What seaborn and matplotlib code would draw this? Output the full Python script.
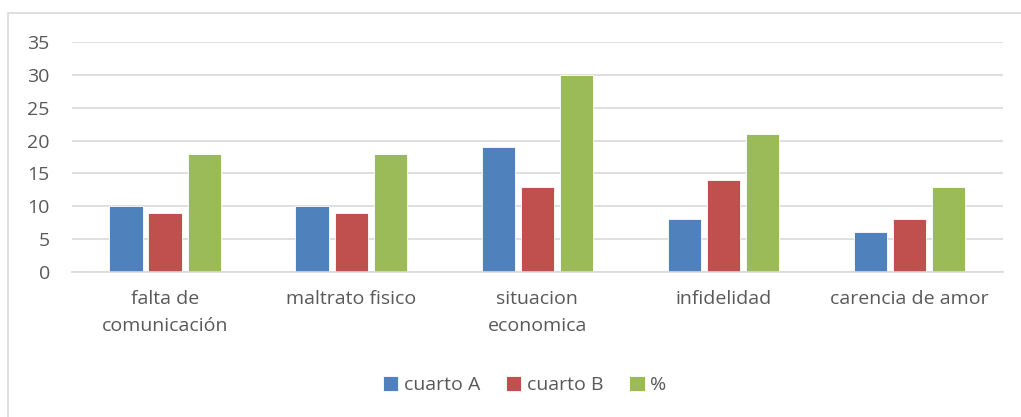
import pandas as pd
import matplotlib.pyplot as plt
import seaborn as sns
from matplotlib.patches import Rectangle

# Datos del gráfico
categorias = ['falta de\ncomunicación', 'maltrato fisico', 'situacion\neconomica',
              'infidelidad', 'carencia de amor']
cuarto_a = [10, 10, 19, 8, 6]
cuarto_b = [9, 9, 13, 14, 8]
porcentaje = [18, 18, 30, 21, 13]
series = ['cuarto A', 'cuarto B', '%']
colores = ['#4F81BD', '#C0504D', '#9BBB59']

df = pd.DataFrame({'categoria': categorias * 3,
                   'serie': [s for s in series for _ in categorias],
                   'valor': cuarto_a + cuarto_b + porcentaje})

sns.set_style('white')
plt.rcParams['font.family'] = ['Open Sans', 'DejaVu Sans']
gris = '#595959'
linea = '#D9D9D9'

fig = plt.figure(figsize=(10.21, 4.17), dpi=100)
ax = fig.add_axes([0.0705, 0.348, 0.9115, 0.551])

sns.barplot(data=df, x='categoria', y='valor', hue='serie', palette=colores,
            saturation=1, width=0.63, gap=0.15, ax=ax, legend=True,
            edgecolor='white', linewidth=0.6)

ax.set_ylim(0, 35)
ax.set_yticks(range(0, 36, 5))
ax.set_xlim(-0.5, 4.5)
ax.grid(axis='y', color=linea, linewidth=1.2)
ax.set_axisbelow(True)
for lado in ['top', 'right', 'left']:
    ax.spines[lado].set_visible(False)
ax.spines['bottom'].set_color(linea)
ax.spines['bottom'].set_linewidth(1.2)
ax.set_xlabel('')
ax.set_ylabel('')
ax.tick_params(axis='both', length=0, labelsize=14, colors=gris)
ax.tick_params(axis='x', pad=13)
ax.tick_params(axis='y', pad=16)
for t in ax.get_xticklabels():
    t.set_linespacing(1.65)

ax.legend(loc='center', bbox_to_anchor=(0.514, 0.077), bbox_transform=fig.transFigure,
          ncol=3, frameon=False, fontsize=14, labelcolor=gris, handlelength=0.8,
          handleheight=0.8, handletextpad=0.3, columnspacing=1.3)

# Borde del gráfico
fig.patches.append(Rectangle((8 / 1021, -0.1), 1.2, 1 - 13 / 417 + 0.1,
                             transform=fig.transFigure, fill=False,
                             edgecolor=linea, linewidth=1.2))

fig.savefig('out.png', dpi=100)
